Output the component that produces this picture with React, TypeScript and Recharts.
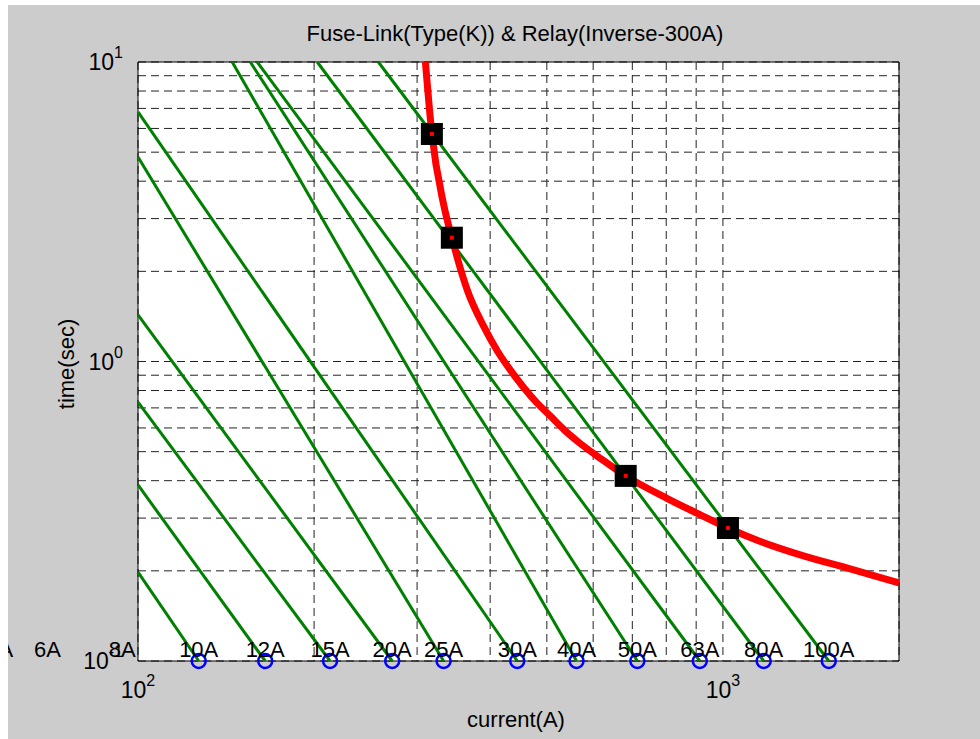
import React from "react"
import {
  CartesianGrid,
  ComposedChart,
  Line,
  ReferenceArea,
  ReferenceDot,
  Scatter,
  XAxis,
  YAxis,
} from "recharts"

const FONT = "'Liberation Sans', Arial, Helvetica, sans-serif"

// fuse ratings and the current where each curve reaches the 0.1 s floor
const fuseNames = ["4A", "6A", "8A", "10A", "12A", "15A", "20A", "25A", "30A", "40A", "50A", "63A", "80A", "100A"]
const fuseEndCurrent = [58, 70, 94, 127, 165, 213, 272, 333, 445, 562, 714, 913, 1174, 1517]
// where each visible curve comes into the plot (left or top edge)
const fuseStartCurrent = [null, null, null, 100, 100, 100, 100, 100, 100, 144.9, 155.6, 159.9, 202.5, 257.6]
const fuseStartTime = [null, null, null, 0.198, 0.387, 0.732, 1.43, 4.82, 6.81, 10, 10, 10, 10, 10]
const fuseEndTime = 0.1

// relay, inverse characteristic, 300A pickup
const relayCurrent = [310, 318, 333, 344, 366, 390, 412, 436, 456, 480, 508, 536, 565, 620, 682, 805, 900, 1020, 1150, 1360, 1650, 2000]
const relayTime = [10, 5.75, 3.35, 2.59, 1.72, 1.31, 1.08, 0.92, 0.82, 0.73, 0.655, 0.59, 0.54, 0.472, 0.415, 0.348, 0.3125, 0.278, 0.252, 0.2256, 0.203, 0.1823]

// crossing points of relay and fuse curves
const crossCurrent = [318, 344, 682, 1020]
const crossTime = [5.75, 2.59, 0.415, 0.278]

const xGridTicks = [100, 200, 300, 400, 500, 600, 700, 800, 900, 1000, 2000]
const yGridTicks = [0.1, 0.2, 0.3, 0.4, 0.5, 0.6, 0.7, 0.8, 0.9, 1, 2, 3, 4, 5, 6, 7, 8, 9, 10]
const xMajor = [100, 1000]
const xMajorExp = ["2", "3"]
const yMajor = [0.1, 1, 10]
const yMajorExp = ["-1", "0", "1"]

const fuseLines = fuseNames
  .map((name, i) => ({
    name,
    points:
      fuseStartCurrent[i] == null
        ? null
        : [
            { current: fuseStartCurrent[i], time: fuseStartTime[i] },
            { current: fuseEndCurrent[i], time: fuseEndTime },
          ],
  }))
  .filter((f) => f.points)

const circles = fuseEndCurrent.filter((c) => c >= 100).map((c) => ({ current: c, time: fuseEndTime }))
const relay = relayCurrent.map((c, i) => ({ current: c, time: relayTime[i] }))
const crossings = crossCurrent.map((c, i) => ({ current: c, time: crossTime[i] }))

function XTick(props: any) {
  const { x, y, payload } = props
  const i = xMajor.indexOf(payload.value)
  if (i < 0) return <g />
  return (
    <text x={x} y={y + 37} textAnchor="middle" fontSize={23} fontFamily={FONT} fill="#000">
      <tspan>10</tspan>
      <tspan dy={-12} fontSize={16}>
        {xMajorExp[i]}
      </tspan>
    </text>
  )
}

function YTick(props: any) {
  const { x, y, payload } = props
  const i = yMajor.indexOf(payload.value)
  if (i < 0) return <g />
  return (
    <text x={x - 15} y={y + 8} textAnchor="end" fontSize={23} fontFamily={FONT} fill="#000">
      <tspan>10</tspan>
      <tspan dy={-12} fontSize={16}>
        {yMajorExp[i]}
      </tspan>
    </text>
  )
}

function SquareMark(props: any) {
  const { cx, cy } = props
  return (
    <g>
      <rect x={cx - 11} y={cy - 11} width={22} height={22} fill="#000" />
      <rect x={cx - 2} y={cy - 2} width={4} height={4} fill="#ff0000" />
    </g>
  )
}

function CircleMark(props: any) {
  const { cx, cy } = props
  return <circle cx={cx} cy={cy} r={7} fill="none" stroke="#0000ff" strokeWidth={2.5} />
}

export default function App() {
  return (
    <div
      style={{
        position: "fixed",
        left: 8,
        top: 5,
        width: 972,
        height: 734,
        background: "#cccccc",
        overflow: "hidden",
      }}
    >
      <ComposedChart width={972} height={734} margin={{ top: 57, right: 81, bottom: 38, left: 90 }}>
        <CartesianGrid stroke="#222" strokeDasharray="8 5" fill="#ffffff" fillOpacity={1} />
        <XAxis
          type="number"
          dataKey="current"
          scale="log"
          domain={[100, 2000]}
          ticks={xGridTicks}
          interval={0}
          tick={XTick}
          tickLine={false}
          axisLine={false}
          tickSize={0}
          tickMargin={0}
          height={40}
        />
        <YAxis
          type="number"
          dataKey="time"
          scale="log"
          domain={[0.1, 10]}
          ticks={yGridTicks}
          interval={0}
          tick={YTick}
          tickLine={false}
          axisLine={false}
          tickSize={0}
          tickMargin={0}
          width={40}
        />
        <ReferenceArea x1={100} x2={2000} y1={0.1} y2={10} fill="none" stroke="#000" strokeWidth={1} />
        {fuseLines.map((f) => (
          <Line
            key={f.name}
            data={f.points as any}
            dataKey="time"
            stroke="#008000"
            strokeWidth={3}
            dot={false}
            isAnimationActive={false}
          />
        ))}
        <Line
          data={relay}
          dataKey="time"
          type="monotone"
          stroke="#ff0000"
          strokeWidth={7}
          dot={false}
          isAnimationActive={false}
        />
        <Scatter data={crossings} dataKey="time" shape={SquareMark} isAnimationActive={false} />
        <Scatter data={circles} dataKey="time" shape={CircleMark} isAnimationActive={false} />
        {fuseNames.map((name, i) => (
          <ReferenceDot
            key={name}
            x={fuseEndCurrent[i]}
            y={fuseEndTime}
            r={0}
            ifOverflow="visible"
            shape={(p: any) => (
              <text x={p.cx} y={p.cy - 4} textAnchor="middle" fontSize={22} fontFamily={FONT} fill="#000">
                {name}
              </text>
            )}
          />
        ))}
      </ComposedChart>
      <svg
        width={972}
        height={734}
        style={{ position: "absolute", left: 0, top: 0, pointerEvents: "none" }}
        fontFamily={FONT}
        fill="#000"
      >
        <text x={507} y={36} textAnchor="middle" fontSize={22}>
          Fuse-Link(Type(K)) &amp; Relay(Inverse-300A)
        </text>
        <text x={508} y={722} textAnchor="middle" fontSize={22}>
          current(A)
        </text>
        <text x={66} y={359} textAnchor="middle" fontSize={22} transform="rotate(-90 66 359)">
          time(sec)
        </text>
      </svg>
    </div>
  )
}
